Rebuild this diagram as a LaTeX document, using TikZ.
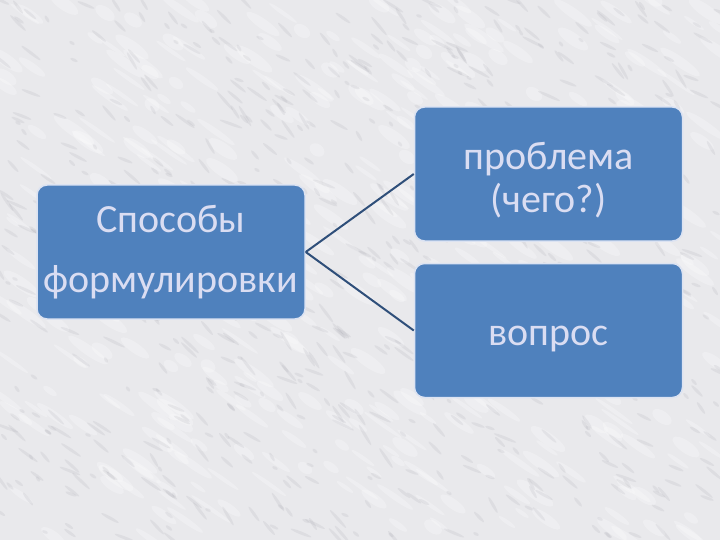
\documentclass[tikz,border=0pt]{standalone}
\usepackage{fontspec}
\setmainfont{Carlito}
\definecolor{bg}{HTML}{E9E9EC}
\definecolor{vein}{HTML}{9A9AA4}
\definecolor{light}{HTML}{FAFAFB}
\definecolor{boxblue}{HTML}{4F81BD}
\definecolor{boxedge}{HTML}{DCE3F2}
\definecolor{txt}{HTML}{DADDF2}
\definecolor{conn}{HTML}{2F4F7A}
\begin{document}
\begin{tikzpicture}[x=1pt,y=-1pt,
  box/.style={draw=boxedge, line width=1.5pt, fill=boxblue, rounded corners=10pt,
    minimum width=268pt, minimum height=134pt, align=center, text=txt, inner sep=0pt},
  conn/.style={draw=conn, line width=2pt}]
\fill[bg] (0,0) rectangle (720,540);
\useasboundingbox (0,0) rectangle (720,540);
\begin{scope}
\clip (0,0) rectangle (720,540);
\pgfmathsetseed{11}
\foreach \i in {1,...,450}{
  \pgfmathsetmacro{\px}{random(0,720)}
  \pgfmathsetmacro{\py}{random(0,540)}
  \pgfmathsetmacro{\ra}{random(8,24)}
  \pgfmathsetmacro{\rb}{random(2,6)}
  \fill[light, opacity=0.35, rotate around={-35:(\px,\py)}] (\px,\py) ellipse ({\ra} and {\rb});
}
\foreach \i in {1,...,700}{
  \pgfmathsetmacro{\px}{random(0,720)}
  \pgfmathsetmacro{\py}{random(0,540)}
  \pgfmathsetmacro{\ra}{random(3,12)}
  \pgfmathsetmacro{\ang}{random(20,60)}
  \fill[vein, opacity=0.14, rotate around={-\ang:(\px,\py)}] (\px,\py) ellipse ({\ra} and 1.5);
}
\end{scope}
\node[box, font=\fontsize{40}{60}\selectfont] (src) at (171,252) {Способы\\формулировки};
\node[box, font=\fontsize{40}{43}\selectfont] (prob) at (548.5,174) {\rule{0pt}{40pt}проблема\\(чего?)};
\node[box, font=\fontsize{40}{43}\selectfont] (ques) at (548.5,330.5) {\rule{0pt}{36pt}вопрос};
\draw[conn] (src.east) -- (prob.west);
\draw[conn] (src.east) -- (ques.west);
\end{tikzpicture}
\end{document}
